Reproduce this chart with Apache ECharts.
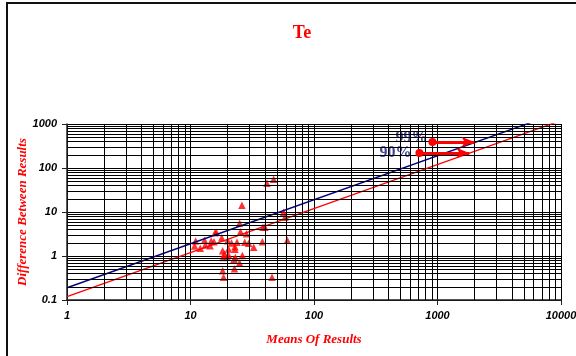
<!DOCTYPE html>
<html><head><meta charset="utf-8">
<script src="https://cdn.jsdelivr.net/npm/echarts@6/dist/echarts.min.js"></script>
<style>html,body{margin:0;padding:0;background:#fff}#c{width:576px;height:356px}</style>
</head><body><div id="c"></div>
<script>
// Scatter data (Means Of Results, Difference Between Results)
const xMeans = [47.1,41.6,26.1,56.8,58.2,25.0,15.8,16.2,25.4,28.4,38.6,40.0,11.0,13.0,14.7,15.5,17.9,20.0,21.5,23.8,27.5,29.6,38.2,60.8,10.8,12.0,13.2,14.4,20.3,22.9,22.9,32.5,18.2,18.8,18.4,19.8,20.3,23.1,22.5,26.3,25.0,22.7,18.2,18.5,45.7];
const yDiffs = [55.3,44.9,14.2,9.84,7.58,5.53,3.39,3.45,3.57,3.21,4.49,4.49,2.19,2.27,2.19,2.11,2.61,2.23,1.97,2.05,2.05,1.94,2.11,2.27,1.69,1.50,1.78,1.71,1.44,1.63,1.42,1.58,1.32,1.11,0.93,0.96,1.05,0.93,0.84,1.02,0.69,0.51,0.46,0.33,0.33];
// Limit lines y = k * x
const lineX = [1, 10000];
const k90 = 0.12;
const k99 = 0.19;
// Arrow annotations [x, y]
const arrow99 = [[910, 390], [1990, 390]];
const arrow90 = [[714, 219], [1810, 219]];
const xTicks = [1, 10, 100, 1000, 10000];
const yTicks = [0.1, 1, 10, 100, 1000];

const minorX = [], minorY = [];
for (let d = 1; d < 10000; d *= 10) for (let m = 2; m <= 9; m++) minorX.push({xAxis: m * d});
for (let d = 0.1; d < 999; d *= 10) for (let m = 2; m <= 9; m++) minorY.push({yAxis: +(m * d).toPrecision(3)});

const chart = echarts.init(document.getElementById('c'), null, {renderer: 'canvas'});
const labelFont = {fontFamily: 'Liberation Sans, Arial', fontWeight: 'bold', fontStyle: 'italic', fontSize: 11, color: '#000'};
const nameFont = {fontFamily: 'Liberation Serif, Times New Roman', fontWeight: 'bold', fontStyle: 'italic', fontSize: 13, color: '#ff0000'};
const pctFont = {fontFamily: 'Liberation Serif, Times New Roman', fontWeight: 'bold', fontSize: 16, color: '#14147a',
  textShadowColor: '#a0a0a0', textShadowOffsetX: 2, textShadowOffsetY: 2, textShadowBlur: 0};

chart.setOption({
  animation: false,
  backgroundColor: '#fff',
  title: {text: 'Te', left: 297, top: 19, textAlign: 'center',
    textStyle: {fontFamily: 'Liberation Serif, Times New Roman', fontWeight: 'bold', fontSize: 18, color: '#ff0000'}},
  graphic: [{type: 'rect', shape: {x: 7, y: 3, width: 700, height: 500}, style: {fill: 'none', stroke: '#111', lineWidth: 2}, silent: true}],
  grid: {left: 67, right: 15, top: 124, bottom: 56, outerBoundsMode: 'none', containLabel: false},
  xAxis: {type: 'log', logBase: 10, min: xTicks[0], max: xTicks[xTicks.length - 1],
    name: 'Means Of Results', nameLocation: 'middle', nameGap: 33, nameMoveOverlap: false, nameTextStyle: nameFont,
    axisLine: {lineStyle: {color: '#222', width: 1.5}},
    axisTick: {show: true, length: 5, lineStyle: {color: '#222'}},
    axisLabel: Object.assign({margin: 10, formatter: v => String(v)}, labelFont),
    splitLine: {show: true, lineStyle: {color: '#000', width: 1}}},
  yAxis: {type: 'log', logBase: 10, min: yTicks[0], max: yTicks[yTicks.length - 1],
    name: 'Difference Between Results', nameLocation: 'middle', nameGap: 38, nameMoveOverlap: false, nameTextStyle: nameFont,
    axisLine: {show: true, lineStyle: {color: '#222', width: 1.5}},
    axisTick: {show: true, length: 5, lineStyle: {color: '#222'}},
    axisLabel: Object.assign({margin: 10, formatter: v => String(v)}, labelFont),
    splitLine: {show: true, lineStyle: {color: '#000', width: 1}}},
  series: [
    {type: 'line', data: [], silent: true,
      markLine: {silent: true, symbol: 'none', label: {show: false}, animation: false,
        lineStyle: {color: '#000', width: 1, type: 'solid'}, emphasis: {disabled: true},
        data: minorX.concat(minorY)}},
    {type: 'line', name: '99%', data: lineX.map(x => [x, +(k99 * x).toPrecision(4)]), symbol: 'none', clip: true,
      lineStyle: {color: '#000080', width: 1.4}},
    {type: 'line', name: '90%', data: lineX.map(x => [x, +(k90 * x).toPrecision(4)]), symbol: 'none', clip: true,
      lineStyle: {color: '#ff0000', width: 1.3}},
    {type: 'scatter', data: xMeans.map((x, i) => [x, yDiffs[i]]), symbol: 'triangle', symbolSize: 7.5,
      itemStyle: {color: '#ff0000'}},
    {type: 'line', data: [], silent: true,
      markLine: {silent: true, symbol: ['circle', 'arrow'], symbolSize: [8, 13], animation: false,
        lineStyle: {color: '#ff0000', width: 3, type: 'solid'}, label: {show: false},
        data: [
          [{coord: arrow99[0]}, {coord: arrow99[1]}],
          [{coord: arrow90[0]}, {coord: arrow90[1]}]
        ]}},
    {type: 'scatter', symbolSize: 0, silent: true,
      data: [
        {value: arrow99[0], label: Object.assign({show: true, formatter: '99%', position: 'left', distance: 5, offset: [0, -4]}, pctFont)},
        {value: arrow90[0], label: Object.assign({show: true, formatter: '90%', position: 'left', distance: 8, offset: [0, 0]}, pctFont)}
      ]}
  ]
});
</script></body></html>
